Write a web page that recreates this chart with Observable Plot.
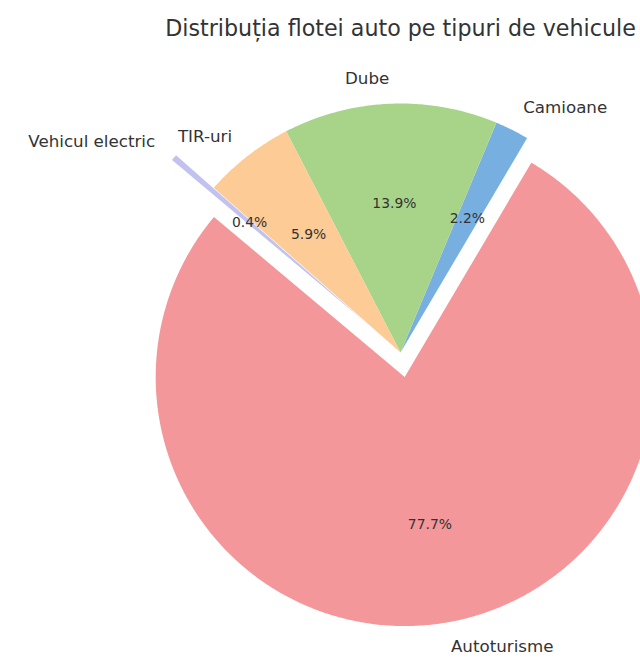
<!DOCTYPE html>
<html>
<head>
<meta charset="utf-8">
<script src="https://cdn.jsdelivr.net/npm/d3@7"></script>
<script src="https://cdn.jsdelivr.net/npm/@observablehq/plot@0.6"></script>
<style>
  html, body { margin: 0; padding: 0; background: #fff; }
  #chart svg { display: block; }
</style>
</head>
<body>
<div id="chart"></div>
<script>
// ---- data ----
const title = "Distribuția flotei auto pe tipuri de vehicule";
const categories = ["Autoturisme", "Camioane", "Dube", "TIR-uri", "Vehicul electric"];
const values = [77.7, 2.2, 13.9, 5.9, 0.4];
const colors = ["#f4979a", "#77b0e0", "#a8d48a", "#fdcb95", "#c2c2f0"];
const explode = [0.1, 0, 0, 0, 0.2];
const startAngle = 140; // degrees, counter-clockwise

// ---- layout ----
const W = 640, H = 658;
const cx = 400, cy = 352, R = 249; // pixel centre and radius of the pie
const labelDistance = 1.1, pctDistance = 0.6;

// ---- build slices ----
const total = d3.sum(values);
let acc = 0;
const slices = categories.map((name, i) => {
  const t1 = startAngle + acc / total * 360;
  acc += values[i];
  const t2 = startAngle + acc / total * 360;
  const tm = (t1 + t2) / 2 * Math.PI / 180;
  const ox = explode[i] * Math.cos(tm), oy = explode[i] * Math.sin(tm);
  return {name, value: values[i], color: colors[i], t1, t2, tm, ox, oy};
});

const polys = [];
for (const s of slices) {
  polys.push({name: s.name, x: s.ox, y: s.oy});
  const n = Math.max(2, Math.ceil((s.t2 - s.t1) / 0.5));
  for (let k = 0; k <= n; k++) {
    const a = (s.t1 + (s.t2 - s.t1) * k / n) * Math.PI / 180;
    polys.push({name: s.name, x: s.ox + Math.cos(a), y: s.oy + Math.sin(a)});
  }
  polys.push({name: s.name, x: s.ox, y: s.oy});
}

const labels = slices.map(s => ({
  name: s.name,
  x: s.ox + labelDistance * Math.cos(s.tm),
  y: s.oy + labelDistance * Math.sin(s.tm)
}));
const pcts = slices.map(s => ({
  text: s.value.toFixed(1) + "%",
  x: s.ox + pctDistance * Math.cos(s.tm),
  y: s.oy + pctDistance * Math.sin(s.tm)
}));

const textColor = "#333333";

const chart = Plot.plot({
  width: W,
  height: H,
  margin: 0,
  style: {fontFamily: "DejaVu Sans, sans-serif", background: "#fff", color: textColor},
  x: {domain: [-cx / R, (W - cx) / R], range: [0, W], axis: null},
  y: {domain: [(cy - H) / R, cy / R], range: [H, 0], axis: null},
  color: {domain: categories, range: colors},
  marks: [
    Plot.line(polys, {x: "x", y: "y", z: "name", fill: "name", stroke: null, curve: "linear"}),
    Plot.text(labels.filter(d => d.x > 0), {x: "x", y: "y", text: "name", textAnchor: "start", fontSize: 16.7, fill: textColor}),
    Plot.text(labels.filter(d => d.x <= 0), {x: "x", y: "y", text: "name", textAnchor: "end", fontSize: 16.7, fill: textColor}),
    Plot.text(pcts, {x: "x", y: "y", text: "text", fontSize: 13.9, fill: textColor}),
    Plot.text([title], {x: [0], y: [(cy - 28) / R], text: d => d, fontSize: 22.2, fill: textColor})
  ]
});
document.getElementById("chart").appendChild(chart);
</script>
</body>
</html>
